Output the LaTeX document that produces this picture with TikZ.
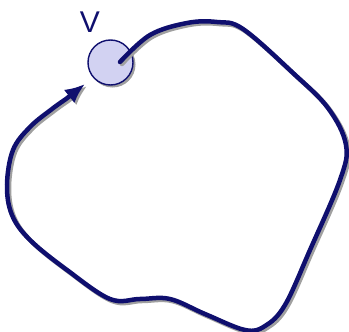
\documentclass[tikz,border=0pt]{standalone}
\usepackage{fontspec}
\setmainfont{Liberation Sans}
\usetikzlibrary{arrows.meta,calc}
\definecolor{navy}{RGB}{15,15,110}
\definecolor{vfill}{RGB}{210,210,242}
\definecolor{shade}{RGB}{160,160,160}
\begin{document}
\begin{tikzpicture}[x=1pt,y=-1pt,
  loopline/.style={line width=4.5pt,draw=navy,line cap=round},
  shadowline/.style={line width=4.5pt,draw=shade,line cap=round},
  vertex/.style={circle,draw=navy,fill=vfill,line width=1.4pt,minimum size=45pt,inner sep=0pt}]
\useasboundingbox (0,0) rectangle (349,332);
% shadow of vertex
\node[circle,fill=shade,minimum size=46pt,inner sep=0pt] (vs) at (112.5,64.5) {};
\node[vertex] (v) at (110.5,62.5) {};
\node[text=navy,font=\fontsize{30}{30}\selectfont,anchor=center,inner sep=0pt] (lbl) at (90,22.5) {V};
\def\looppts{(120,62) (150,35) (187,23) (217,22) (243,29) (293,73) (328,108) (346,145) (340,180) (310,250) (285,305) (265,326) (245,330) (205,314) (170,299) (140,299) (110,299) (67,270) (30,240) (12,215) (7,185) (13,150) (30,127) (52,109) (66,99)}
\begin{scope}[shift={(2,2)}]
\draw[shadowline,-{Latex[length=20pt,width=17pt]}] plot[smooth,tension=0.6] coordinates {\looppts} -- (85,84);
\end{scope}
\draw[loopline,-{Latex[length=20pt,width=17pt]}] plot[smooth,tension=0.6] coordinates {\looppts} -- (85,84);
\end{tikzpicture}
\end{document}
